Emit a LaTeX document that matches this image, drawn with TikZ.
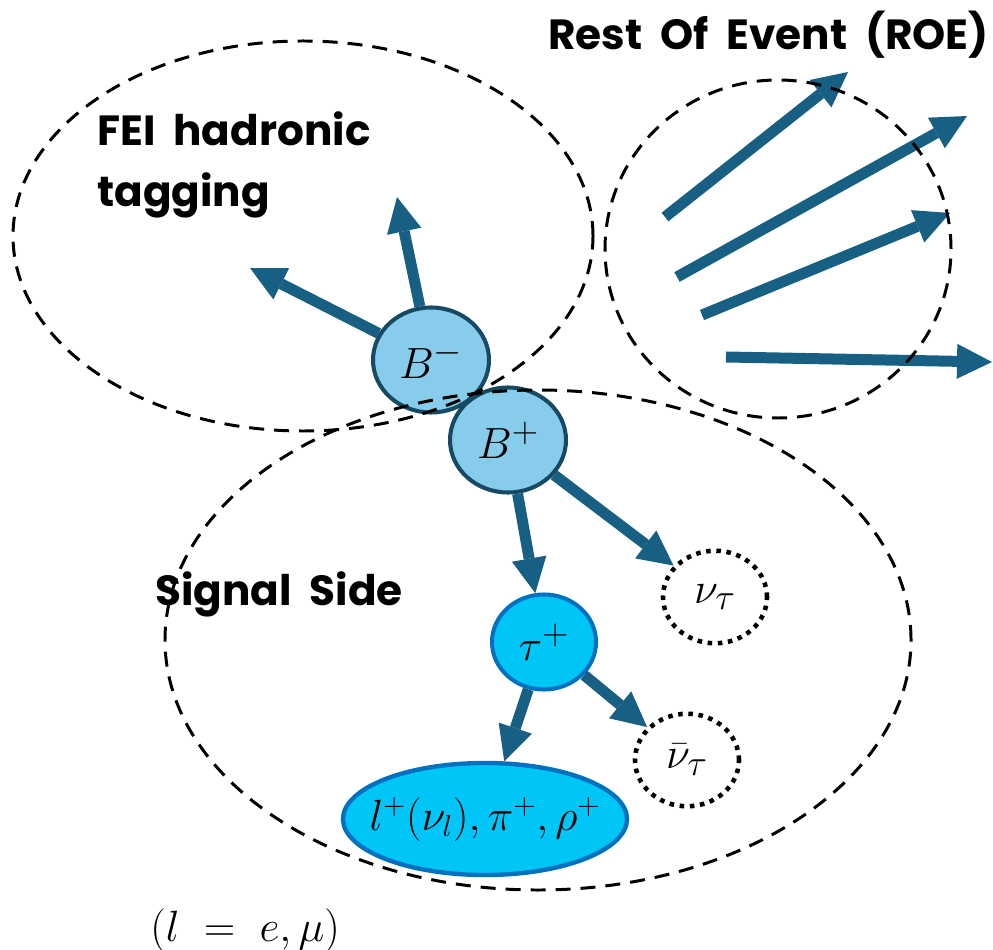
\documentclass[tikz,border=0pt]{standalone}
\usepackage{fontspec}
\setmainfont{Fira Sans}
\newfontfamily\lblfont{Poppins}
\usetikzlibrary{arrows.meta,shapes.geometric}

\definecolor{arrowblue}{RGB}{24,96,131}
\definecolor{bfill}{RGB}{135,204,234}
\definecolor{bdraw}{RGB}{22,74,100}
\definecolor{taufill}{RGB}{0,198,248}
\definecolor{taudraw}{RGB}{0,112,192}

\begin{document}
\begin{tikzpicture}[x=0.2mm,y={(0,-0.2mm)},
    region/.style={draw,line width=1.7pt,dash pattern=on 3mm off 2mm},
    arr/.style={draw=arrowblue,line width=2.2mm,
      -{Triangle[length=7mm,width=7mm,line width=0pt]}},
    bmeson/.style={ellipse,draw=bdraw,fill=bfill,line width=2.3pt,inner sep=0pt,
      minimum width=23.2mm,minimum height=21mm,font=\fontsize{31}{36}\selectfont},
    taunode/.style={ellipse,draw=taudraw,fill=taufill,line width=2.3pt,inner sep=0pt,
      minimum width=20.8mm,minimum height=19mm,font=\fontsize{31}{36}\selectfont},
    neutrino/.style={ellipse,draw,line width=2.6pt,dash pattern=on 2.6pt off 3.2pt,
      inner sep=0pt,minimum width=20.8mm,minimum height=18.5mm,
      font=\fontsize{31}{36}\selectfont},
    decayprod/.style={ellipse,draw=taudraw,fill=taufill,line width=2.5pt,inner sep=0pt,
      inner xsep=-3mm,minimum width=56.8mm,minimum height=22.4mm,
      font=\fontsize{26}{30}\selectfont},
    lbl/.style={font=\lblfont\fontsize{24}{35}\selectfont\bfseries,inner sep=0pt}]

  \useasboundingbox (0,0) rectangle (993,950);

  % Particles
  \node[bmeson] (bm) at (431,360) {$B^-$};
  \node[bmeson] (bp) at (508,440) {$B^+$};
  \node[taunode] (tau) at (544,642) {$\tau^+$};
  \node[neutrino] (nu) at (715,597) {$\nu_\tau$};
  \node[neutrino] (nubar) at (687,760) {$\bar{\nu}_\tau$};
  \node[decayprod] (prod) at (485,819) {$l^+(\nu_l),\pi^+,\rho^+$};

  % Tag side
  \coordinate (tagA) at (397,197);
  \coordinate (tagB) at (250,268);
  \draw[arr] (bm) -- (tagA);
  \draw[arr] (bm) -- (tagB);

  % Signal side decay
  \draw[arr] (bp) -- (tau);
  \draw[arr] (bp) -- (nu);
  \draw[arr] (tau) -- (prod);
  \draw[arr] (tau) -- (nubar);

  % Rest of event tracks
  \foreach \i/\sx/\sy/\ex/\ey in {
    1/665/217/848/72,
    2/677/277/967/116,
    3/702/315/950/213,
    4/726/357/992/362
  } {
    \coordinate (roe\i s) at (\sx,\sy);
    \coordinate (roe\i e) at (\ex,\ey);
    \draw[arr] (roe\i s) -- (roe\i e);
  }

  % Regions
  \draw[region] (303,236) ellipse [x radius=58mm,y radius=39mm];
  \draw[region] (778,249) ellipse [x radius=34.6mm,y radius=33.8mm];
  \draw[region] (538,640) ellipse [x radius=74.6mm,y radius=50mm];

  % Labels
  \node[lbl,anchor=base west,align=left] (fei) at (97,207) {FEI\ \ hadronic\\tagging};
  \node[lbl,anchor=base west] (roe) at (548,50) {Rest\ \ Of\ \ Event\ \ (ROE)};
  \node[lbl,anchor=base west] (sig) at (155,605) {Signal\ \ Side};
  \node[anchor=base west,inner sep=0pt,font=\fontsize{31}{34}\selectfont] (lflav) at (150,941) {$(l\;=\;e,\mu)$};

\end{tikzpicture}
\end{document}
